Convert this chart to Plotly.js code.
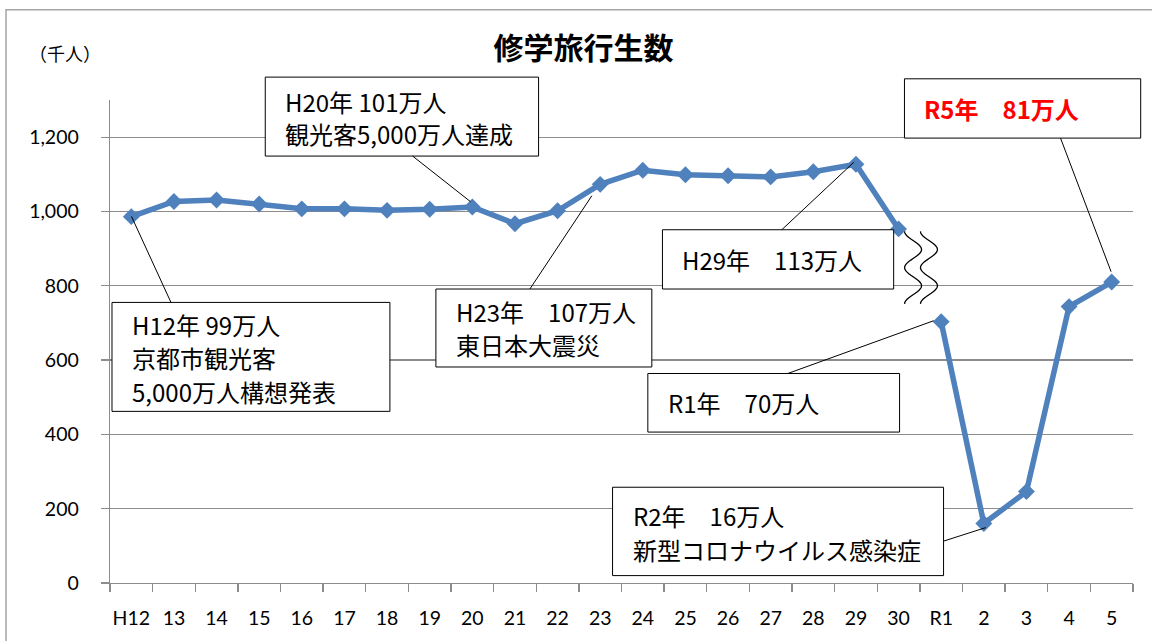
<!DOCTYPE html>
<html>
<head>
<meta charset="utf-8">
<script src="https://cdn.plot.ly/plotly-3.0.1.min.js"></script>
<style>html,body{margin:0;padding:0;background:#fff;}#chart{width:1152px;height:641px;}</style>
</head>
<body>
<div id="chart"></div>
<script>
// ---- data ----
const years = ['H12','13','14','15','16','17','18','19','20','21','22','23','24','25','26','27','28','29','30','R1','2','3','4','5'];
const students = [986,1027,1031,1020,1007,1007,1003,1006,1012,967,1002,1073,1111,1099,1096,1093,1107,1127,953,703,160,246,744,810];
const breakAt = years.indexOf('R1');
const yTicks = [0,200,400,600,800,1000,1200];
const unitLabel = '（千人）';
const chartTitle = '修学旅行生数';

// ---- geometry helpers (pixel -> paper) ----
const PL = 110, PR = 1133.3, PT = 100.2, PB = 583.4;
const fx = px => (px - PL) / (PR - PL);
const fy = py => (PB - py) / (PB - PT);

const blue = '#4F81BD';
const jp = '"Noto Sans CJK JP", "Noto Sans", sans-serif';

const lineStyle = {color: blue, width: 5.5};
const markerStyle = {symbol: 'diamond', size: 13, color: blue, line: {width: 0}};

const traces = [
  {x: years.slice(0, breakAt), y: students.slice(0, breakAt), type: 'scatter', mode: 'lines+markers',
   line: lineStyle, marker: markerStyle, showlegend: false, hoverinfo: 'skip'},
  {x: years.slice(breakAt), y: students.slice(breakAt), type: 'scatter', mode: 'lines+markers',
   line: lineStyle, marker: markerStyle, showlegend: false, hoverinfo: 'skip'}
];

// callout boxes: [left, top, right, bottom], text left, line center ys, lines, leader line
const callouts = [
  {box: [265.3, 77.3, 538.7, 156.3], tx: 284, ty: [101.7, 133.3], lines: ['H20年 101万人', '観光客5,000万人達成'], lead: [412.7, 156.3, 470.7, 202]},
  {box: [112, 302.7, 390, 411.7], tx: 131, ty: [325, 358.3, 391.7], lines: ['H12年 99万人', '京都市観光客', '5,000万人構想発表'], lead: [171, 302.7, 131.5, 216.7]},
  {box: [436, 289.3, 652, 367.3], tx: 455, ty: [311.7, 345], lines: ['H23年　107万人', '東日本大震災'], lead: [530, 289.3, 592, 196]},
  {box: [662.6, 230, 893.9, 289.3], tx: 681.5, ty: [260], lines: ['H29年　113万人'], lead: [782, 230, 854, 162.5]},
  {box: [904.7, 79, 1141, 138.3], tx: 923, ty: [109], lines: ['<b>R5年　81万人</b>'], lead: [1060.8, 138.3, 1111.4, 272], color: '#FF0000'},
  {box: [648, 373.8, 899.8, 432.4], tx: 667.5, ty: [403], lines: ['R1年　70万人'], lead: [788, 373.8, 934, 321]},
  {box: [612.7, 487.6, 943.8, 576], tx: 632.3, ty: [516, 549.7], lines: ['R2年　16万人', '新型コロナウイルス感染症'], lead: [943.8, 541.5, 986, 528]}
];

const shapes = [];
const annotations = [];

// outer chart frame
shapes.push({type: 'rect', xref: 'paper', yref: 'paper', x0: fx(6), y0: fy(10), x1: fx(1175), y1: fy(670),
  line: {color: '#a6a6a6', width: 1.5}, fillcolor: 'rgba(0,0,0,0)', layer: 'below'});

callouts.forEach(c => {
  shapes.push({type: 'rect', xref: 'paper', yref: 'paper',
    x0: fx(c.box[0]), y0: fy(c.box[3]), x1: fx(c.box[2]), y1: fy(c.box[1]),
    line: {color: '#000', width: 1}, fillcolor: '#fff', layer: 'above'});
  shapes.push({type: 'line', xref: 'paper', yref: 'paper',
    x0: fx(c.lead[0]), y0: fy(c.lead[1]), x1: fx(c.lead[2]), y1: fy(c.lead[3]),
    line: {color: '#000', width: 1}, layer: 'above'});
  c.lines.forEach((t, i) => {
    annotations.push({xref: 'paper', yref: 'paper', x: fx(c.tx), y: fy(c.ty[i]), xanchor: 'left', yanchor: 'middle',
      align: 'left', showarrow: false, borderpad: 0, text: t,
      font: {family: jp, size: 24, color: c.color || '#000'}});
  });
});

// axis break marks
function wave(xc, ytop, P, A) {
  let d = '';
  for (let i = 0; i <= 48; i++) {
    const y = ytop + 2 * P * i / 48;
    const x = xc - A * Math.cos(2 * Math.PI * (y - ytop) / P);
    d += (i ? 'L' : 'M') + fx(x).toFixed(5) + ',' + fy(y).toFixed(5);
  }
  return d;
}
[913.3, 929.2].forEach(xc => {
  shapes.push({type: 'path', xref: 'paper', yref: 'paper', path: wave(xc, 231.7, 36.2, 8.5),
    line: {color: '#000', width: 1.3}, layer: 'above'});
});

// unit label
annotations.push({xref: 'paper', yref: 'paper', x: fx(65), y: fy(53), xanchor: 'center', yanchor: 'middle',
  showarrow: false, text: unitLabel, font: {family: jp, size: 18, color: '#000'}});

const layout = {
  width: 1152, height: 641,
  margin: {l: PL, r: 1152 - PR, t: PT, b: 641 - PB, pad: 0},
  paper_bgcolor: '#fff', plot_bgcolor: '#fff',
  title: {text: '<b>' + chartTitle + '</b>', font: {family: jp, size: 30, color: '#000'},
    xref: 'container', yref: 'container', x: 583.5 / 1152, xanchor: 'center', y: 1 - 48 / 641, yanchor: 'middle'},
  xaxis: {type: 'category', range: [-0.5, years.length - 0.5], autorange: false,
    tickson: 'boundaries', ticks: 'outside', ticklen: 8, tickcolor: '#8c8c8c', tickwidth: 1.3, tickangle: 0,
    showline: true, linecolor: '#8c8c8c', linewidth: 1.3, showgrid: false, zeroline: false,
    tickfont: {family: 'Lato, "Open Sans", sans-serif', size: 19.5, color: '#000'}, ticklabelstandoff: 17,
    fixedrange: true},
  yaxis: {range: [0, 1300], autorange: false, tickvals: yTicks, tickformat: ',d', ticks: 'outside', ticklen: 8, tickcolor: '#8c8c8c', tickwidth: 1.3,
    showline: true, linecolor: '#8c8c8c', linewidth: 1.3, showgrid: true, gridcolor: '#8c8c8c', gridwidth: 1.3, zeroline: false,
    tickfont: {family: 'Lato, "Open Sans", sans-serif', size: 19.5, color: '#000'}, ticklabelstandoff: 18,
    fixedrange: true},
  shapes: shapes,
  annotations: annotations,
  showlegend: false
};

Plotly.newPlot('chart', traces, layout, {displayModeBar: false, staticPlot: true});
</script>
</body>
</html>
